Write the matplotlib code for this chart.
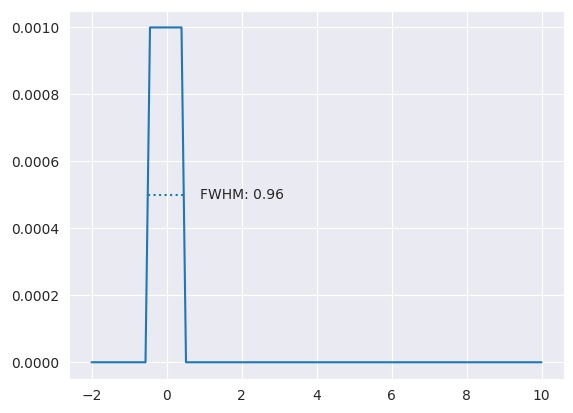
import numpy as np
import matplotlib
matplotlib.use('Agg')
from matplotlib import pyplot as plt
import seaborn as sns

sns.set_style('darkgrid')

# Rechteckpuls, abgetastet mit Schrittweite 0.12 von -2 bis 10
x = np.linspace(-2, 10, 101)
y = np.where(np.abs(x) <= 0.5, 0.001, 0.0)

# FWHM-Markierung
fwhm_left = -0.5
fwhm_right = 0.46
half_max = 0.0005
fwhm_label = 'FWHM: 0.96'

fig, ax = plt.subplots(figsize=(5.73, 4.13), dpi=100)
fig.subplots_adjust(left=69/573, right=564/573, top=1-10.7/413, bottom=1-379/413)

ax.plot(x, y, color='C0')
ax.plot([fwhm_left, fwhm_right], [half_max, half_max], ':', color='C0')
ax.text(fwhm_right + 0.43, half_max, fwhm_label, va='center', ha='left', color='0.15')

fig.savefig('out.png')
